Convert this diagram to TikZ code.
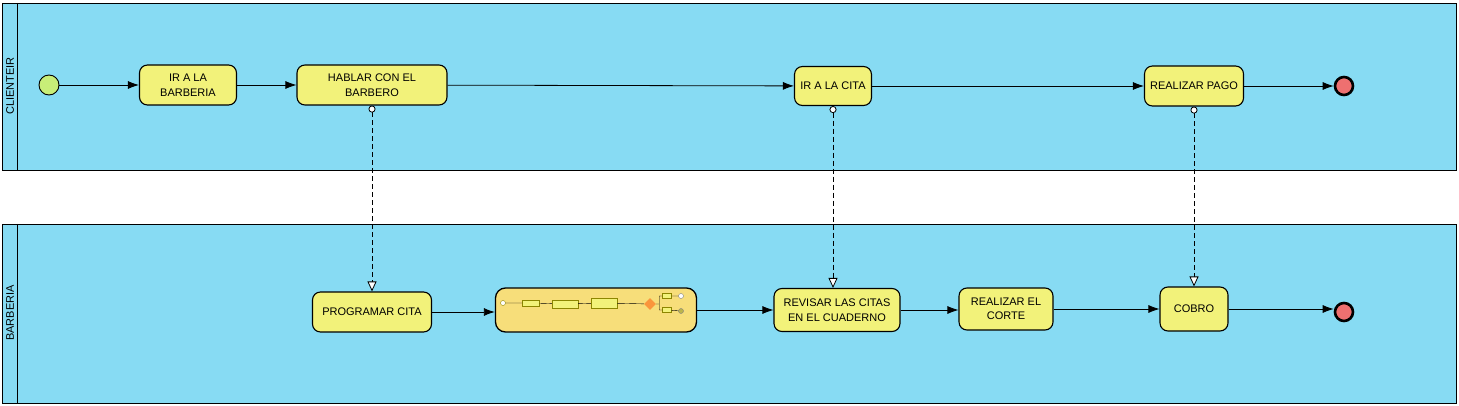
\documentclass[tikz,border=0pt]{standalone}
\usepackage{fontspec}
\setmainfont{Liberation Sans}
\usetikzlibrary{arrows.meta,shapes,positioning}
\definecolor{lanecyan}{RGB}{135,219,243}
\definecolor{taskyellow}{RGB}{242,242,122}
\definecolor{subyellow}{RGB}{247,222,122}
\definecolor{startgreen}{RGB}{200,238,120}
\definecolor{endred}{RGB}{238,112,112}
\definecolor{gateorange}{RGB}{250,150,60}

\begin{document}
\begin{tikzpicture}[x=1pt,y=-1pt, >={Latex[length=11pt,width=8pt]},
  font=\fontsize{11}{14.5}\selectfont,
  lane/.style={draw=black,fill=lanecyan,line width=0.9pt},
  lanelabel/.style={rotate=90,inner sep=0pt},
  task/.style={draw=black,fill=taskyellow,rounded corners=8pt,line width=1.1pt,align=center,inner sep=0pt},
  subproc/.style={draw=black,fill=subyellow,rounded corners=10pt,line width=1.3pt,inner sep=0pt},
  startev/.style={circle,draw=black,fill=startgreen,line width=0.9pt,minimum size=20pt,inner sep=0pt},
  endev/.style={circle,draw=black,fill=endred,line width=2.6pt,minimum size=18pt,inner sep=0pt},
  msg/.style={dashed,dash pattern=on 5pt off 3pt,line width=0.8pt,
    {Circle[open,fill=white,length=7pt]}-{Triangle[open,fill=white,length=10pt,width=9pt]}},
  mini/.style={draw=olive,fill=taskyellow,line width=0.4pt,inner sep=0pt},
  minidot/.style={circle,draw=gray,fill=white,line width=0.4pt,minimum size=5pt,inner sep=0pt}]
        \useasboundingbox[fill=white] (0,0) rectangle (1459,406);

        % pools
        \draw[lane] (2,3) rectangle (1456,170);
        \draw[line width=0.9pt] (17,3) -- (17,170);
        \draw[lane] (2,224) rectangle (1456,403);
        \draw[line width=0.9pt] (17,224) -- (17,403);
        \node[lanelabel] (l_1) at (10,86)  {CLIENTEIR};
        \node[lanelabel] (l_2) at (10,313) {BARBERIA};

        % cliente
        \node[startev]  (s_0) at (49,85)    {};
        \node[task,minimum width=97pt,minimum height=40pt]  (t_1) at (188,85)  {IR A LA\\BARBERIA};
        \node[task,minimum width=150pt,minimum height=40pt] (t_2) at (372,85)  {HABLAR CON EL\\BARBERO};
        \node[task,minimum width=77pt,minimum height=39pt]  (t_3) at (833,86)  {IR A LA CITA};
        \node[task,minimum width=99pt,minimum height=40pt]  (t_4) at (1194,86) {REALIZAR PAGO};
        \node[endev]    (e_1) at (1344,86)  {};

        % barberia
        \node[task,minimum width=119pt,minimum height=40pt] (t_5) at (372,312)  {PROGRAMAR CITA};
        \node[subproc,minimum width=201pt,minimum height=44pt] (sub) at (596,310) {};
        \node[task,minimum width=126pt,minimum height=43pt] (t_6) at (837,310)  {REVISAR LAS CITAS\\EN EL CUADERNO};
        \node[task,minimum width=94pt,minimum height=42pt]  (t_7) at (1006,309) {REALIZAR EL\\CORTE};
        \node[task,minimum width=68pt,minimum height=44pt]  (t_8) at (1194,309) {COBRO};
        \node[endev]    (e_2) at (1344,312) {};

        % subproceso (miniatura)
        \node[minidot,draw=olive] (m_0) at (503,303) {};
        \node[mini,minimum width=17pt,minimum height=6pt]  (m_1) at (531,303) {};
        \node[mini,minimum width=26pt,minimum height=8pt]  (m_2) at (565,304) {};
        \node[mini,minimum width=26pt,minimum height=10pt] (m_3) at (604,303) {};
        \node[diamond,fill=gateorange,minimum size=12pt,inner sep=0pt] (m_g) at (650,304) {};
        \node[mini,minimum width=9pt,minimum height=5pt]   (m_4) at (667,296) {};
        \node[mini,minimum width=9pt,minimum height=5pt]   (m_5) at (667,310) {};
        \node[minidot] (m_6) at (681,296) {};
        \node[minidot,fill=olive!60] (m_7) at (681,311) {};
        \draw[line width=0.4pt] (m_0) -- (m_1) (m_1) -- (m_2) (m_2) -- (m_3) (m_3) -- (m_g)
              (m_g.east) -- ++(3,0) |- (m_4) (m_g.east) -- ++(3,0) |- (m_5)
              (m_4) -- (m_6) (m_5) -- (m_7);

        % flujo
        \path[->,line width=0.8pt]
              (s_0) edge (t_1)
              (t_1) edge (t_2)
              (t_2) edge (t_3)
              (t_3) edge (t_4)
              (t_4) edge (e_1)
              (t_5) edge (t_5 -| sub.west)
              (sub) edge (sub -| t_6.west)
              (t_6) edge (t_6 -| t_7.west)
              (t_7) edge (t_8)
              (t_8) edge (t_8 -| e_2.west);

        % mensajes
        \draw[msg] (t_2.south) -- (t_2.south |- t_5.north);
        \draw[msg] (t_3.south) -- (t_3.south |- t_6.north);
        \draw[msg] (t_4.south) -- (t_4.south |- t_8.north);
\end{tikzpicture}
\end{document}
